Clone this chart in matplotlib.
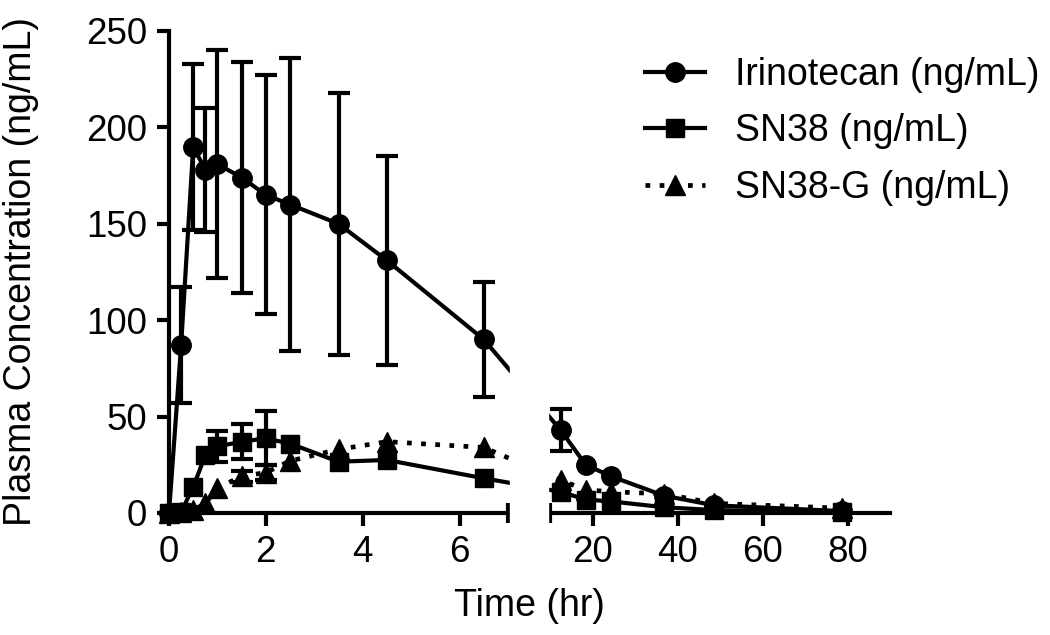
import numpy as np
import matplotlib
matplotlib.use('Agg')
import matplotlib.pyplot as plt
from matplotlib.patches import Rectangle

plt.rcParams['font.family'] = ['Liberation Sans', 'DejaVu Sans']

# sampling times (hr)
time = [0, 0.25, 0.5, 0.75, 1, 1.5, 2, 2.5, 3.5, 4.5, 6.5,
        12.5, 18.4, 24.4, 36.8, 48.6, 78.6]

# mean plasma concentrations (ng/mL) and SD
irino = [0, 87, 190, 178, 181, 174, 165, 160, 150, 131, 90,
         43, 25, 19, 9, 4, 1]
irino_sd = [0, 30, 43, 32, 59, 60, 62, 76, 68, 54, 30,
            11, 0, 0, 0, 0, 0]
sn38 = [0, 0.5, 13.5, 30, 34.5, 37, 38.7, 36, 26.6, 27.5, 18,
        11, 7, 6, 3, 1.5, 0.5]
sn38_sd = [0, 0, 0, 0, 8, 9, 14, 0, 0, 0, 0,
           0, 0, 0, 0, 0, 0]
sn38g = [0, 0.5, 1.5, 5, 13, 19, 21, 27, 33, 37, 34,
         17, 12, 11, 10, 5, 2.5]
sn38g_sd = [0, 0, 0, 0, 0, 3, 4, 0, 0, 0, 0,
            0, 0, 0, 0, 0, 0]

xticks = [0, 2, 4, 6, 20, 40, 60, 80]
yticks = [0, 50, 100, 150, 200, 250]

# broken x axis: 0-7 and 10-90, piecewise linear in pixels
brk_x = [-1000, 0, 7, 10, 90, 1000]
brk_u = [-48430, 0, 339, 381, 721, 721 + 910 * 4.25]


def fwd(x):
    return np.interp(x, brk_x, brk_u)


def inv(u):
    return np.interp(u, brk_u, brk_x)


def nz(sd):
    sd = np.asarray(sd, dtype=float)
    return np.where(sd > 0, sd, np.nan)


fig = plt.figure(figsize=(10.5, 6.35), dpi=100)
ax = fig.add_axes([169 / 1050, 122 / 635, 721 / 1050, 482 / 635])
ax.set_xscale('function', functions=(fwd, inv))

lw = 3.0
k = 'black'
# SN38-G
ax.errorbar(time, sn38g, yerr=nz(sn38g_sd), fmt='none', ecolor=k,
            elinewidth=lw, capsize=8, capthick=lw, clip_on=False, zorder=3)
ax.plot(time, sn38g, color=k, lw=3.4, ls=(0, (1.0, 2.0)), marker='^', ms=15,
        clip_on=False, zorder=3, label='SN38-G (ng/mL)')
# SN38
ax.errorbar(time, sn38, yerr=nz(sn38_sd), fmt='none', ecolor=k,
            elinewidth=lw, capsize=8, capthick=lw, clip_on=False, zorder=4)
ax.plot(time, sn38, color=k, lw=lw, marker='s', ms=13,
        clip_on=False, zorder=4, label='SN38 (ng/mL)')
# Irinotecan
ax.errorbar(time, irino, yerr=nz(irino_sd), fmt='none', ecolor=k,
            elinewidth=lw, capsize=8, capthick=lw, clip_on=False, zorder=5)
ax.plot(time, irino, color=k, lw=lw, marker='o', ms=14,
        clip_on=False, zorder=5, label='Irinotecan (ng/mL)')

# blank out the gap between the two x segments
ax.add_patch(Rectangle((7.11, -0.03), 9.89 - 7.11, 1.06,
                       transform=ax.get_xaxis_transform(), color='white',
                       zorder=10, clip_on=False))

ax.set_xlim(0, 90)
ax.set_ylim(0, 250)
ax.set_xticks(xticks)
ax.set_xticks([7, 10], minor=True)
ax.set_yticks(yticks)
ax.spines['top'].set_visible(False)
ax.spines['right'].set_visible(False)
for s in ['left', 'bottom']:
    ax.spines[s].set_linewidth(3.0)
ax.tick_params(which='major', direction='out', length=9, width=3.0,
               labelsize=26.5, pad=7)
ax.tick_params(which='minor', direction='inout', length=14, width=3.0)

ax.set_xlabel('Time (hr)', fontsize=27)
ax.set_ylabel('Plasma Concentration (ng/mL)', fontsize=27)
ax.xaxis.set_label_coords(0.5, -0.155)
ax.yaxis.set_label_coords(-0.18, 0.5)

h, l = ax.get_legend_handles_labels()
fig.legend(h[::-1], l[::-1], loc='upper left', bbox_to_anchor=(0.614, 0.91),
           frameon=False, fontsize=27, handlelength=1.6, handletextpad=0.8,
           labelspacing=0.54, borderpad=0, borderaxespad=0)

fig.savefig('out.png', dpi=100)
